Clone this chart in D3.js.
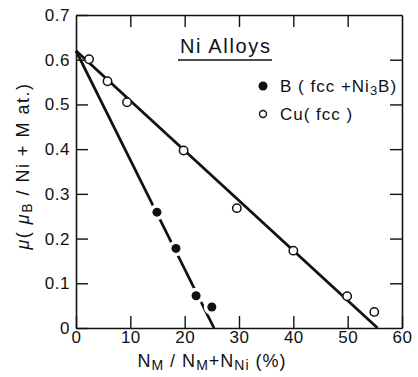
<!DOCTYPE html>
<html><head><meta charset="utf-8">
<script src="https://cdn.jsdelivr.net/npm/d3@7"></script>
<style>body{margin:0;background:#fff}svg{display:block}text{font-family:"Liberation Sans",Arial,sans-serif;fill:#111}</style>
</head><body><div id="c"></div>
<script>
const cuX = [2.4, 5.8, 9.4, 19.8, 29.6, 40.0, 49.9, 54.9];
const cuY = [0.601, 0.552, 0.505, 0.397, 0.268, 0.173, 0.071, 0.036];
const bX = [14.9, 18.4, 22.1, 25.0];
const bY = [0.259, 0.178, 0.072, 0.047];
const fitCu = [[0, 0.62], [55.5, 0]];
const fitB = [[0, 0.62], [25.4, 0]];
const xTicks = [0, 10, 20, 30, 40, 50, 60];
const yTicks = [0, 0.1, 0.2, 0.3, 0.4, 0.5, 0.6, 0.7];

const W = 418, H = 377;
const L = 76, R = 402, T = 15, B = 328;
const svg = d3.select("#c").append("svg").attr("width", W).attr("height", H);
const x = d3.scaleLinear().domain([0, 60]).range([L, R]);
const y = d3.scaleLinear().domain([0, 0.7]).range([B, T]);
const tk = 12;

function style(g){ g.select(".domain").attr("stroke","#111").attr("stroke-width",1.6);
  g.selectAll(".tick line").attr("stroke","#111").attr("stroke-width",1.4);
  g.selectAll(".tick text").attr("font-size",17).attr("fill","#111").attr("letter-spacing",0.5).attr("font-family","Liberation Sans, Arial, sans-serif"); }

svg.append("g").attr("transform",`translate(0,${B})`)
  .call(d3.axisBottom(x).tickValues(xTicks).tickSizeInner(-tk).tickSizeOuter(0).tickPadding(3).tickFormat(d=>String(d)))
  .call(style);
svg.append("g").attr("transform",`translate(0,${T})`)
  .call(d3.axisTop(x).tickValues(xTicks.slice(1,-1)).tickSizeInner(-tk).tickSizeOuter(0).tickFormat(""))
  .call(style);
svg.append("g").attr("transform",`translate(${L},0)`)
  .call(d3.axisLeft(y).tickValues(yTicks).tickSizeInner(-tk).tickSizeOuter(0).tickPadding(6).tickFormat(d=>d===0?"0":d.toFixed(1)))
  .call(style);
svg.append("g").attr("transform",`translate(${R},0)`)
  .call(d3.axisRight(y).tickValues(yTicks.slice(1,-1)).tickSizeInner(-tk).tickSizeOuter(0).tickFormat(""))
  .call(style);

const line = d3.line().x(d=>x(d[0])).y(d=>y(d[1]));
svg.append("path").datum(fitCu).attr("d",line).attr("fill","none").attr("stroke","#111").attr("stroke-width",2.8);
svg.append("path").datum(fitB).attr("d",line).attr("fill","none").attr("stroke","#111").attr("stroke-width",2.8);

// gaps around B points
svg.append("g").selectAll("circle").data(bX).join("circle")
  .attr("cx",(d)=>x(d)).attr("cy",(d,i)=>y(bY[i])).attr("r",8).attr("fill","#fff");
svg.append("g").selectAll("circle").data(bX).join("circle")
  .attr("cx",(d)=>x(d)).attr("cy",(d,i)=>y(bY[i])).attr("r",4.5).attr("fill","#111");
svg.append("g").selectAll("circle").data(cuX).join("circle")
  .attr("cx",(d)=>x(d)).attr("cy",(d,i)=>y(cuY[i])).attr("r",4.2).attr("fill","#fff").attr("stroke","#111").attr("stroke-width",1.5);

// Title block
svg.append("text").attr("x",180).attr("y",53).attr("font-size",20).attr("textLength",90).text("Ni Alloys");
svg.append("line").attr("x1",178).attr("x2",272).attr("y1",60).attr("y2",60).attr("stroke","#111").attr("stroke-width",1.3);

// legend
svg.append("circle").attr("cx",263).attr("cy",86).attr("r",4.5).attr("fill","#111");
const t1 = svg.append("text").attr("x",280).attr("y",92).attr("font-size",17).attr("letter-spacing",1);
t1.append("tspan").text("B ( fcc +Ni");
t1.append("tspan").attr("font-size",13).attr("dy",3).text("3");
t1.append("tspan").attr("dy",-3).text("B)");
svg.append("circle").attr("cx",263).attr("cy",114).attr("r",3.5).attr("fill","#fff").attr("stroke","#111").attr("stroke-width",1.4);
svg.append("text").attr("x",280).attr("y",120).attr("font-size",17).attr("letter-spacing",1).text("Cu( fcc )");

// x title
const xt = svg.append("text").attr("x",212).attr("y",367).attr("text-anchor","middle").attr("font-size",18).attr("letter-spacing",1);
xt.append("tspan").text("N");
xt.append("tspan").attr("font-size",14).attr("dy",3).text("M");
xt.append("tspan").attr("dy",-3).text(" / N");
xt.append("tspan").attr("font-size",14).attr("dy",3).text("M");
xt.append("tspan").attr("dy",-3).text("+N");
xt.append("tspan").attr("font-size",14).attr("dy",3).text("Ni");
xt.append("tspan").attr("dy",-3).text("  (%)");

// y title
const yt = svg.append("text").attr("transform","translate(29,166) rotate(-90)").attr("text-anchor","middle").attr("font-size",18).attr("letter-spacing",1.5);
yt.append("tspan").attr("font-style","italic").text("μ");
yt.append("tspan").text("( ");
yt.append("tspan").attr("font-style","italic").text("μ");
yt.append("tspan").attr("font-size",14).attr("dy",3).text("B");
yt.append("tspan").attr("dy",-3).text(" / Ni + M at.)");
</script></body></html>
